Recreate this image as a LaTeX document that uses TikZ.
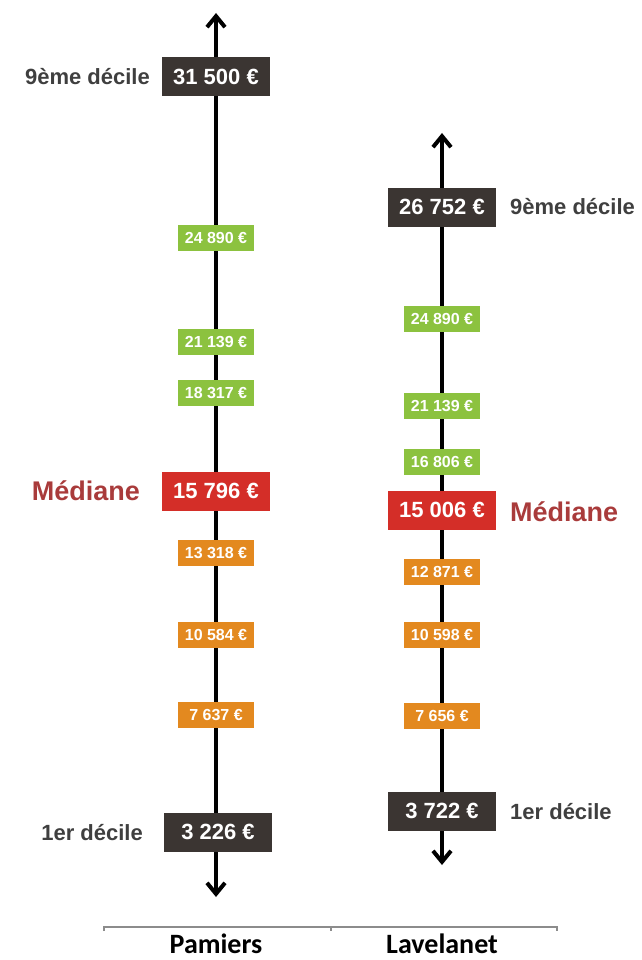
\documentclass[tikz,border=0pt]{standalone}
\usepackage{fontspec}
\setmainfont{Liberation Sans}
\newfontfamily\calibri{Carlito}
\usetikzlibrary{arrows.meta}
\definecolor{sombre}{HTML}{3B3532}
\definecolor{vert}{HTML}{8CC23F}
\definecolor{orange}{HTML}{E3891F}
\definecolor{rouge}{HTML}{D42E28}
\definecolor{gris}{HTML}{3F3F3F}
\definecolor{bordeaux}{HTML}{A93B3B}
\definecolor{trait}{HTML}{8C8C8C}

\begin{document}
\begin{tikzpicture}[x=1pt,y=-1pt,
    axe/.style={line width=4pt,{Straight Barb[length=11pt,width=18pt]}-{Straight Barb[length=11pt,width=18pt]}},
    grand/.style={fill=sombre,text=white,font=\bfseries\fontsize{22}{24}\selectfont,minimum width=108pt,minimum height=39pt,inner sep=0pt},
    petit/.style={fill=#1,text=white,font=\bfseries\fontsize{16}{18}\selectfont,minimum width=76pt,minimum height=26pt,inner sep=0pt},
    legende/.style={text=gris,font=\bfseries\fontsize{22}{24}\selectfont,inner sep=0pt},
    med/.style={text=bordeaux,font=\bfseries\fontsize{27}{29}\selectfont,inner sep=0pt},
    ville/.style={font=\calibri\bfseries\fontsize{28}{30}\selectfont,inner sep=0pt}]
  \useasboundingbox (0,0) rectangle (641,960);

  % axes
  \coordinate (phaut) at (216,13);
  \coordinate (pbas) at (216,897);
  \coordinate (lhaut) at (442,133);
  \coordinate (lbas) at (442,865);
  \draw[axe] (pbas) -- (phaut);
  \draw[axe] (lbas) -- (lhaut);

  % Pamiers
  \node[grand] (p9) at (216,77) {31 500 €};
  \node[petit=vert] (p8) at (216,238) {24 890 €};
  \node[petit=vert] (p7) at (216,342) {21 139 €};
  \node[petit=vert] (p6) at (216,393) {18 317 €};
  \node[grand,fill=rouge] (p5) at (216,491) {15 796 €};
  \node[petit=orange] (p4) at (216,553) {13 318 €};
  \node[petit=orange] (p3) at (216,635) {10 584 €};
  \node[petit=orange] (p2) at (216,715) {7 637 €};
  \node[grand] (p1) at (218,832) {3 226 €};
  \node[legende,anchor=east] (pl9) at (150,77) {9ème décile};
  \node[med,anchor=east] (plm) at (140,491) {Médiane};
  \node[legende,anchor=east] (pl1) at (143,833) {1er décile};

  % Lavelanet
  \node[grand] (l9) at (442,207) {26 752 €};
  \node[petit=vert] (l8) at (442,319) {24 890 €};
  \node[petit=vert] (l7) at (442,406) {21 139 €};
  \node[petit=vert] (l6) at (442,462) {16 806 €};
  \node[grand,fill=rouge] (l5) at (442,510) {15 006 €};
  \node[petit=orange] (l4) at (442,572) {12 871 €};
  \node[petit=orange] (l3) at (442,635) {10 598 €};
  \node[petit=orange] (l2) at (442,716) {7 656 €};
  \node[grand] (l1) at (442,811) {3 722 €};
  \node[legende,anchor=west] (ll9) at (510,207) {9ème décile};
  \node[med,anchor=west] (llm) at (510,512) {Médiane};
  \node[legende,anchor=west] (ll1) at (510,812) {1er décile};

  % villes
  \coordinate (g) at (104,927);
  \coordinate (m) at (331,927);
  \coordinate (d) at (557,927);
  \draw[trait,line width=1.5pt] ([yshift=-4pt]g) -- (g) -- (d) -- ([yshift=-4pt]d);
  \draw[trait,line width=1.5pt] (m) -- ([yshift=-4pt]m);
  \node[ville] (pam) at (216,944) {Pamiers};
  \node[ville] (lav) at (442,944) {Lavelanet};
\end{tikzpicture}
\end{document}
